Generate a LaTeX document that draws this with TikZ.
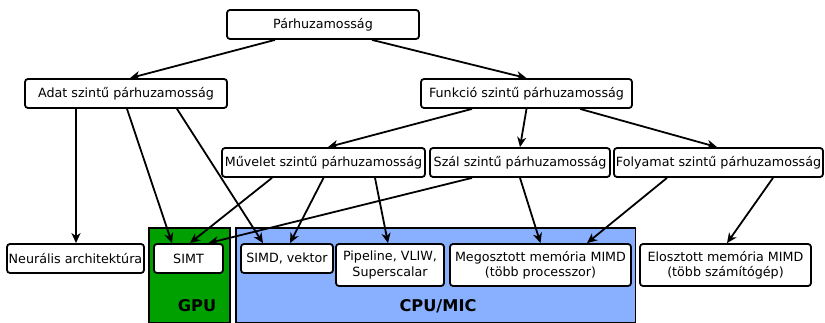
\documentclass[tikz,border=0pt]{standalone}
\usepackage{fontspec}
\setmainfont{DejaVu Sans}
\usepackage{tikz}
\usetikzlibrary{arrows.meta}

\definecolor{gpugreen}{RGB}{0,160,0}
\definecolor{cpublue}{RGB}{136,176,255}

\begin{document}
\begin{tikzpicture}[x=1pt,y=-1pt,
    box/.style={draw,line width=1.8pt,rounded corners=3pt,fill=white,inner sep=1pt,
        align=center,font=\fontsize{12.7}{15.5}\selectfont,minimum height=29pt},
    arr/.style={line width=1.8pt,-{Stealth[length=10pt,width=9pt,inset=3pt]}},
    hwlabel/.style={font=\fontsize{16.2}{18}\selectfont\bfseries}
]
\useasboundingbox (0,0) rectangle (825,323);

% Hardware areas
\draw[line width=1.8pt,fill=gpugreen] (149,228) rectangle (230,322.5);
\draw[line width=1.8pt,fill=cpublue] (236,228) rectangle (635.5,322.5);
\node[hwlabel](GPU) at (197,306){GPU};
\node[hwlabel](CPU) at (438,306){CPU/MIC};

% Levels
\node[box,minimum width=192pt](PAR) at (323,24.5){Párhuzamosság};
\node[box,minimum width=202pt](ADAT) at (126,93.5){Adat szintű párhuzamosság};
\node[box,minimum width=211pt](FUNK) at (526.5,93.5){Funkció szintű párhuzamosság};
\node[box,minimum width=203pt](MUV) at (323.5,162.5){Művelet szintű párhuzamosság};
\node[box,minimum width=180pt](SZAL) at (520,162.5){Szál szintű párhuzamosság};
\node[box,minimum width=209pt](FOLY) at (718.5,162.5){Folyamat szintű párhuzamosság};

% Architectures
\node[box,minimum width=137pt](NEUR) at (75.5,258.5){Neurális architektúra};
\node[box,minimum width=69pt](SIMT) at (188.5,258.5){SIMT};
\node[box,minimum width=92pt](SIMD) at (287,258.5){SIMD, vektor};
\node[box,minimum width=108pt,minimum height=42pt](PIPE) at (390,265){Pipeline, VLIW,\\Superscalar};
\node[box,minimum width=181pt,minimum height=42pt](MEGO) at (540.5,265){Megosztott memória MIMD\\(több processzor)};
\node[box,minimum width=171pt,minimum height=42pt](ELOS) at (725.5,265){Elosztott memória MIMD\\(több számítógép)};

\draw[arr] ([xshift=-48pt]PAR.south) -- ([xshift=4pt]ADAT.north);
\draw[arr] ([xshift=49pt]PAR.south) -- (FUNK.north);
\draw[arr] ([xshift=-50pt]ADAT.south) -- ([xshift=0.5pt]NEUR.north);
\draw[arr] ([xshift=1pt]ADAT.south) -- ([xshift=-16.5pt]SIMT.north);
\draw[arr] ([xshift=51pt]ADAT.south) -- ([xshift=-24pt]SIMD.north);
\draw[arr] ([xshift=-54.5pt]FUNK.south) -- ([xshift=4.5pt]MUV.north);
\draw[arr] (FUNK.south) -- (SZAL.north);
\draw[arr] ([xshift=53.5pt]FUNK.south) -- ([xshift=-1.5pt]FOLY.north);
\draw[arr] ([xshift=-51.5pt]MUV.south) -- ([xshift=1.5pt]SIMT.north);
\draw[arr] (MUV.south) -- ([xshift=3pt]SIMD.north);
\draw[arr] ([xshift=51.5pt]MUV.south) -- ([xshift=-2pt]PIPE.north);
\draw[arr] ([xshift=-48pt]SZAL.south) -- ([xshift=20pt]SIMT.north);
\draw[arr] (SZAL.south) -- (MEGO.north);
\draw[arr] ([xshift=-51.5pt]FOLY.south) -- ([xshift=46.5pt]MEGO.north);
\draw[arr] ([xshift=54.5pt]FOLY.south) -- ([xshift=1.5pt]ELOS.north);
\end{tikzpicture}
\end{document}
